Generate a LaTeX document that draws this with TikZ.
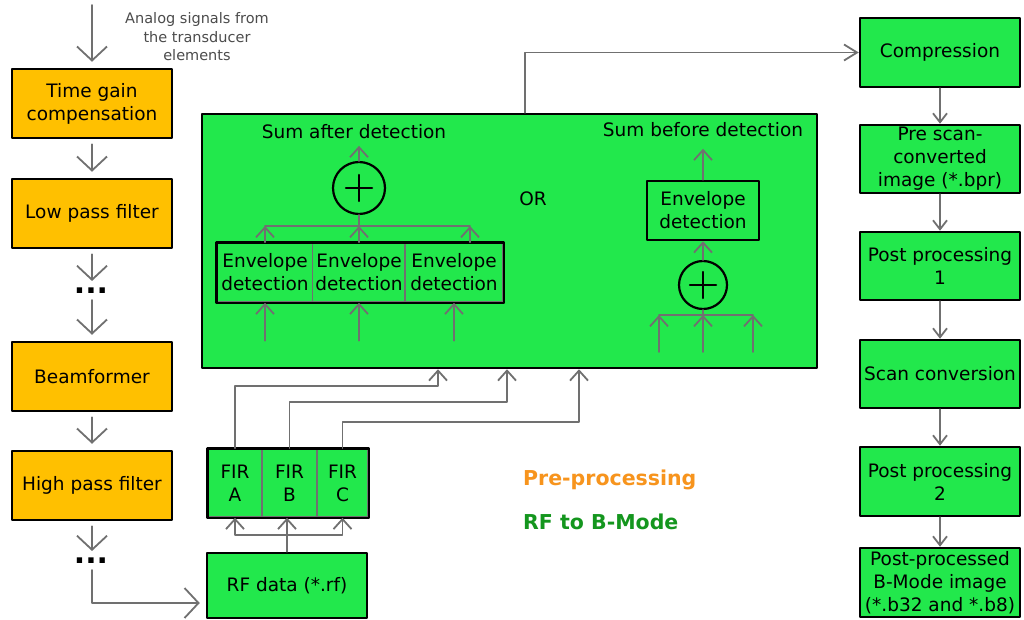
\documentclass[tikz,border=0pt]{standalone}
\usepackage{fontspec}
\setmainfont{DejaVu Sans}
\usetikzlibrary{arrows.meta}
\definecolor{preorange}{RGB}{255,192,0}
\definecolor{rfgreen}{RGB}{34,232,76}
\definecolor{wiregray}{RGB}{112,112,112}
\definecolor{legorange}{RGB}{247,148,29}
\definecolor{leggreen}{RGB}{20,150,30}
\newcommand{\boxfont}{\fontsize{18.5}{23}\selectfont}
\newcommand{\notefont}{\fontsize{14.5}{18.5}\selectfont}
\newcommand{\legfont}{\fontsize{20.5}{24}\selectfont\bfseries}
\newcommand{\dotfont}{\fontsize{30}{30}\selectfont\bfseries}

\begin{document}
\begin{tikzpicture}[x=1pt, y=-1pt, font=\boxfont, line cap=round, line join=round,
		>={Straight Barb[length=10pt,width=18pt]},
		blk/.style={draw=black, line width=2.5pt, align=center, inner sep=0pt, minimum width=160pt, minimum height=68pt},
		prebox/.style={blk, fill=preorange, minimum height=69pt},
		rfbox/.style={blk, fill=rfgreen},
		cell/.style={draw=wiregray, line width=1.5pt, fill=rfgreen, align=center, inner sep=0pt, minimum height=59pt},
		wire/.style={draw=wiregray, line width=1.8pt},
		bigarr/.style={wire, -{Straight Barb[length=14pt,width=30pt]}, shorten <=5pt, shorten >=6pt},
		smallarr/.style={wire, ->},
		colarr/.style={wire, -{Straight Barb[length=9pt,width=14pt]}},
		cmparr/.style={wire, -{Straight Barb[length=13pt,width=16pt]}},
		adder/.style={circle, draw=black, line width=2.2pt, inner sep=0pt, minimum size=#1,
			path picture={\draw[line width=2.5pt] ([xshift=-13pt]path picture bounding box.center) -- ([xshift=13pt]path picture bounding box.center)
				([yshift=-13pt]path picture bounding box.center) -- ([yshift=13pt]path picture bounding box.center);}}]
	\path[use as bounding box, fill=white] (0,0) rectangle (1024,620);

	% (1) Pre-processing chain
	\coordinate (probe) at (92,5);
	\node[text=black!70, font=\notefont, align=center] (analog) at (197,37) {Analog signals from\\the transducer\\elements};
	\node[prebox] (tgc) at (92,103.5) {Time gain\\compensation};
	\node[prebox] (lpf) at (92,213.5) {Low pass filter};
	\node[font=\dotfont, inner sep=1pt] (dotsA) at (91,291) {...};
	\node[prebox] (bmf) at (92,376.5) {Beamformer};
	\node[prebox] (hpf) at (92,485.5) {High pass filter};
	\node[font=\dotfont, inner sep=1pt] (dotsB) at (91,561) {...};

	\draw[bigarr, shorten <=0pt] (probe) -- (tgc.north);
	\draw[bigarr] (tgc.south) -- (lpf.north);
	\draw[bigarr] (lpf.south) -- (lpf.south |- dotsA.north);
	\draw[bigarr] (lpf.south |- dotsA.south) -- (bmf.north);
	\draw[bigarr] (bmf.south) -- (hpf.north);
	\draw[bigarr] (hpf.south) -- (hpf.south |- dotsB.north);

	% (2) RF data + FIR filters
	\node[rfbox, minimum height=65pt] (rf) at (287,585.5) {RF data (*.rf)};
	\draw[bigarr] (hpf.south |- dotsB.south) |- ([yshift=-17.5pt]rf.west);
	\node[cell, minimum width=54pt, minimum height=68pt] (firA) at (235,483) {FIR\\A};
	\node[cell, minimum width=55pt, minimum height=68pt] (firB) at (289.5,483) {FIR\\B};
	\node[cell, minimum width=51pt, minimum height=68pt] (firC) at (342.5,483) {FIR\\C};
	\draw[line width=2.5pt] (firA.north west) rectangle (firC.south east);

	\draw[smallarr] (rf.north) -- (rf.north |- firB.south);
	\draw[smallarr] (rf.north |- 0,535) -| (firA.south);
	\draw[smallarr] (rf.north |- 0,535) -| (firC.south);

	% (3) Detection block
	\node[rfbox, minimum width=615pt, minimum height=254pt] (proc) at (509.5,241) {};

	\draw[smallarr] (firA.north) |- (438,386) -- (438,386 |- proc.south);
	\draw[smallarr] (firB.north) |- (507,402) -- (507,402 |- proc.south);
	\draw[smallarr] (firC.north) |- (579,422) -- (579,422 |- proc.south);

	% sum after detection
	\node (sumAfter) at (354,132) {Sum after detection};
	\node[adder=52pt] (addA) at (359,188) {};
	\node[cell, minimum width=96pt] (envA1) at (265,272.5) {Envelope\\detection};
	\node[cell, minimum width=93pt] (envA2) at (359,272.5) {Envelope\\detection};
	\node[cell, minimum width=98pt] (envA3) at (454,272.5) {Envelope\\detection};
	\draw[line width=2.5pt] (envA1.north west) rectangle (envA3.south east);
	\coordinate (busA) at (359,226);
	\foreach \n in {envA1, envA2}
		\draw[smallarr] (\n.north) -- (\n.north |- busA);
	\draw[smallarr] ([xshift=16pt]envA3.north) -- ([xshift=16pt]envA3.north |- busA);
	\draw[wire] (envA1.north |- busA) -- ([xshift=16pt]envA3.north |- busA);
	\draw[wire] (busA) -- (addA.south);
	\draw[smallarr] (addA.north) -- ++(0,-15);
	\draw[smallarr] ([yshift=-38pt]envA1.south) -- (envA1.south);
	\draw[smallarr] ([yshift=-38pt]envA2.south) -- (envA2.south);
	\draw[smallarr] ([yshift=-38pt]envA3.south) -- (envA3.south);

	\node (orLbl) at (533,199) {OR};

	% sum before detection
	\node (sumBefore) at (703,130) {Sum before detection};
	\node[cell, draw=black, line width=2.5pt, minimum width=112pt] (envB) at (703,210.5) {Envelope\\detection};
	\node[adder=48pt] (addB) at (703,285) {};
	\coordinate (busB) at (703,315);
	\draw[smallarr] (envB.north) -- ++(0,-31);
	\draw[smallarr] (addB.north) -- (envB.south);
	\draw[wire] (busB) -- (addB.south);
	\draw[wire] ([xshift=-44pt]busB) -- ([xshift=50pt]busB);
	\foreach \dx in {-44pt, 0pt, 50pt}
		\draw[smallarr] ([xshift=\dx]busB) ++(0,37) -- ([xshift=\dx]busB);

	% (4) RF to B-Mode chain
	\node[rfbox, minimum height=69pt] (comp) at (940,52.5) {Compression};
	\node[rfbox] (prescan) at (940,159) {Pre scan-\\converted\\image (*.bpr)};
	\node[rfbox] (post1) at (940,266) {Post processing\\1};
	\node[rfbox] (scanc) at (940,374) {Scan conversion};
	\node[rfbox, minimum height=69pt] (post2) at (940,481.5) {Post processing\\2};
	\node[rfbox, minimum height=69pt] (bmode) at (940,582.5) {Post-processed\\B-Mode image\\(*.b32 and *.b8)};

	\draw[cmparr] ([xshift=15.5pt]proc.north) |- (comp.west);
	\foreach \a/\b in {comp/prescan, prescan/post1, post1/scanc, scanc/post2, post2/bmode}
		\draw[colarr] (\a.south) -- (\b.north);

	% (5) Legend
	\node[text=legorange, font=\legfont, anchor=west, inner sep=0pt] (legPre) at (523,480) {Pre-processing};
	\node[text=leggreen, font=\legfont, anchor=west, inner sep=0pt] (legRF) at (523,522) {RF to B-Mode};
\end{tikzpicture}
\end{document}
